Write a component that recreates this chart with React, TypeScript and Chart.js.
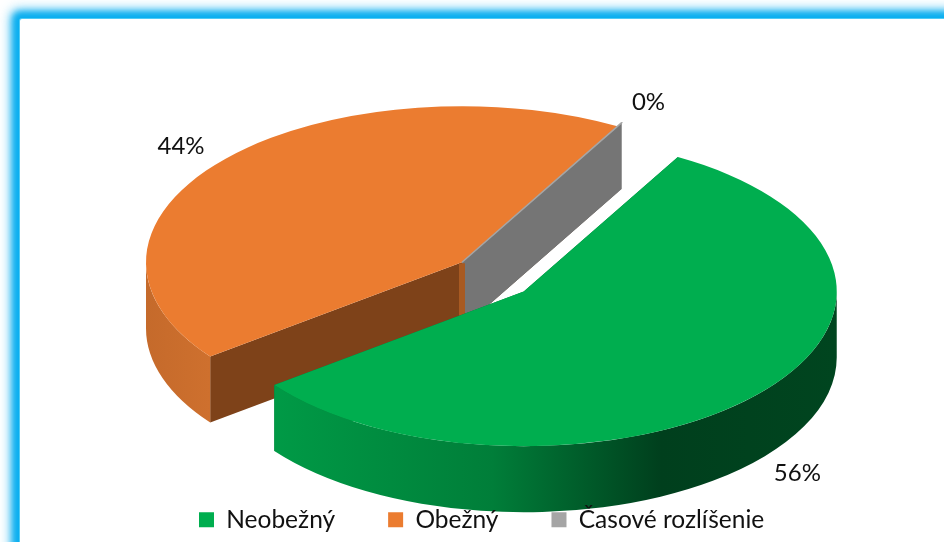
import React, { useEffect, useRef } from "react";
import { Chart, registerables } from "chart.js";

Chart.register(...registerables);

const categories = ["Neobežný", "Obežný", "Časové rozlíšenie"];
const shares = [56.48, 43.51, 0.01];
const topColors = ["#00AE4F", "#EB7C30", "#A5A5A5"];
const wallColors = ["#007A38", "#7E4219", "#757575"];

const FONT = "Lato";
const TILT = 0.494;
const DEPTH = 66;
const DRAW_ORDER = [1, 2, 0];
const RADIUS_DELTA = [-3, 0, 8];
const PIE_SHIFT_X = -33;
const EXPLODE_DROP = 1.1;
const LABEL_NUDGE = [
  [38, 80],
  [-43, -13],
  [27, -21],
];

const pie3d = {
  id: "pie3d",
  // The pie is painted before the layout layers so the legend lies on top of it.
  beforeDraw(chart: any) {
    const { ctx } = chart;
    const arcs = chart.getDatasetMeta(0).data;
    const total = shares.reduce((a, b) => a + b, 0);

    const geom = (i: number) => {
      const a = arcs[i];
      const mid = (a.startAngle + a.endAngle) / 2;
      const off = a.options.offset || 0;
      return {
        cx: a.x + PIE_SHIFT_X + Math.cos(mid) * off,
        cy: a.y + Math.sin(mid) * off * TILT * EXPLODE_DROP,
        r: a.outerRadius + RADIUS_DELTA[i],
        s: a.startAngle,
        e: a.endAngle,
        mid,
      };
    };

    const wall = (g: any, angle: number, color: string) => {
      const x = g.cx + Math.cos(angle) * g.r;
      const y = g.cy + Math.sin(angle) * g.r * TILT;
      ctx.beginPath();
      ctx.moveTo(g.cx, g.cy);
      ctx.lineTo(x, y);
      ctx.lineTo(x, y + DEPTH);
      ctx.lineTo(g.cx, g.cy + DEPTH);
      ctx.closePath();
      ctx.fillStyle = color;
      ctx.fill();
    };

    const rim = (i: number, g: any) => {
      const left = g.cx - g.r;
      const right = g.cx + g.r;
      const grad = ctx.createLinearGradient(left, 0, right, 0);
      if (i === 0) {
        grad.addColorStop(0, "#00A24A");
        grad.addColorStop(0.1, "#009A46");
        grad.addColorStop(0.45, "#007E39");
        grad.addColorStop(0.72, "#003F1D");
        grad.addColorStop(1, "#00451F");
      } else {
        grad.addColorStop(0, "#C56A2B");
        grad.addColorStop(0.1, "#CE702E");
        grad.addColorStop(1, "#CE702E");
      }
      // The rim is only visible on the front half of the ellipse.
      const ranges: number[][] = [];
      const tau = Math.PI * 2;
      for (let k = -1; k <= 2; k++) {
        const a0 = Math.max(g.s, k * tau);
        const a1 = Math.min(g.e, k * tau + Math.PI);
        if (a1 > a0) ranges.push([a0, a1]);
      }
      ranges.forEach(([a0, a1]) => {
        ctx.beginPath();
        ctx.ellipse(g.cx, g.cy, g.r, g.r * TILT, 0, a0, a1);
        ctx.lineTo(g.cx + Math.cos(a1) * g.r, g.cy + Math.sin(a1) * g.r * TILT + DEPTH);
        ctx.ellipse(g.cx, g.cy + DEPTH, g.r, g.r * TILT, 0, a1, a0, true);
        ctx.closePath();
        ctx.fillStyle = grad;
        ctx.fill();
      });
    };

    const top = (i: number, g: any) => {
      ctx.beginPath();
      ctx.moveTo(g.cx, g.cy);
      ctx.ellipse(g.cx, g.cy, g.r, g.r * TILT, 0, g.s, g.e);
      ctx.closePath();
      ctx.fillStyle = topColors[i];
      ctx.fill();
      if (i === 2) {
        ctx.strokeStyle = topColors[i];
        ctx.lineWidth = 1.5;
        ctx.stroke();
      }
    };

    ctx.save();
    DRAW_ORDER.forEach((i) => {
      const g = geom(i);
      wall(g, g.s, wallColors[i]);
      wall(g, g.e, wallColors[i]);
      rim(i, g);
      top(i, g);
      if (i === 2) {
        // narrow sunlit edge where the two rear slices meet at the apex
        ctx.fillStyle = "#A85A22";
        ctx.fillRect(g.cx - 3, g.cy + 1, 6, DEPTH - 12);
      }
    });

    ctx.font = `24px ${FONT}`;
    ctx.fillStyle = "#111";
    ctx.textAlign = "center";
    ctx.textBaseline = "middle";
    shares.forEach((v, i) => {
      const g = geom(i);
      const x = g.cx + Math.cos(g.mid) * g.r + LABEL_NUDGE[i][0];
      const y = g.cy + Math.sin(g.mid) * g.r * TILT + LABEL_NUDGE[i][1];
      ctx.fillText(`${Math.round((v / total) * 100)}%`, x, y);
    });
    ctx.restore();
  },
  beforeDatasetsDraw() {
    return false;
  },
};

export default function App() {
  const ref = useRef<HTMLCanvasElement>(null);
  useEffect(() => {
    const chart = new Chart(ref.current as HTMLCanvasElement, {
      type: "pie",
      data: {
        labels: categories,
        datasets: [
          {
            data: shares,
            backgroundColor: topColors,
            borderWidth: 0,
            offset: [82, 0, 0],
          },
        ],
      },
      options: {
        responsive: false,
        animation: false,
        rotation: 29.5,
        radius: 316,
        layout: { padding: { left: 146, right: 100, top: 70, bottom: 0 } },
        plugins: {
          tooltip: { enabled: false },
          legend: {
            position: "bottom",
            align: "start",
            labels: {
              boxWidth: 15,
              boxHeight: 15,
              padding: 53,
              color: "#111",
              font: { family: FONT, size: 24.5 },
            },
          },
        },
      },
      plugins: [pie3d],
    } as any);
    return () => chart.destroy();
  }, []);

  return (
    <div style={{ position: "fixed", left: 0, top: 0, width: 944, height: 542, overflow: "hidden", background: "#fff" }}>
      <div
        style={{
          position: "absolute",
          left: 20,
          top: 19,
          width: 1000,
          height: 600,
          background: "#fff",
          borderRadius: 2,
          boxShadow: "0 0 0 1px #4FCBF5, 0 0 6px 7px #0AAEEF, 0 0 12px 9px rgba(10,174,239,0.75)",
        }}
      />
      <canvas ref={ref} width={944} height={542} style={{ position: "absolute", left: 0, top: 0, display: "block" }} />
    </div>
  );
}
